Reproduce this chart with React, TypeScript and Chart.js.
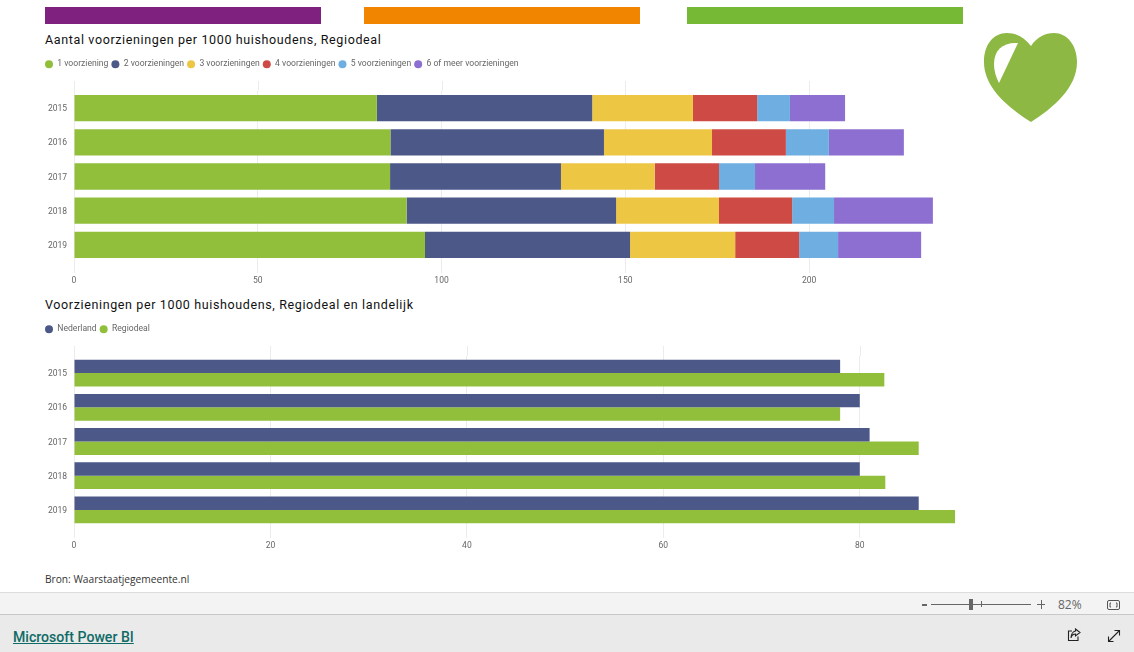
import React, { useEffect, useRef } from "react";
import { Chart, registerables } from "chart.js";

Chart.register(...registerables);

const years = ["2015", "2016", "2017", "2018", "2019"];

const titleTop = "Aantal voorzieningen per 1000 huishoudens, Regiodeal";
const titleBottom = "Voorzieningen per 1000 huishoudens, Regiodeal en landelijk";
const source = "Bron: Waarstaatjegemeente.nl";

const een = [82.4, 86.1, 86, 90.5, 95.5];
const twee = [58.6, 58.1, 46.5, 57, 55.8];
const drie = [27.4, 29.4, 25.5, 28, 28.6];
const vier = [17.5, 20.1, 17.5, 19.9, 17.4];
const vijf = [8.9, 11.7, 9.8, 11.4, 10.6];
const zesPlus = [15, 20.4, 19.1, 26.9, 22.6];

const nederland = [78, 80, 81, 80, 86];
const regiodeal = [82.5, 78, 86, 82.6, 89.7];

const GREEN = "#91BF3C";
const NAVY = "#4B5888";
const YELLOW = "#EDC644";
const RED = "#CE4B45";
const BLUE = "#6FAEE1";
const PURPLE = "#8C6FD1";
const GRID = "#ECECEC";
const TEXT = "#666666";
const FONT = "Roboto, sans-serif";
const LEGEND_PAD = 3;
const CANVAS_LEFT = 45 - LEGEND_PAD;

const layoutPlugin = {
  id: "layoutTweaks",
  beforeInit(chart: any) {
    const legend = chart.legend;
    const fit = legend.fit.bind(legend);
    legend.fit = function () {
      fit();
      legend.height = 34;
    };
  },
  beforeDatasetsDraw(chart: any) {
    const { ctx, chartArea, scales } = chart;
    ctx.save();
    ctx.strokeStyle = GRID;
    ctx.lineWidth = 1;
    scales.x.ticks.forEach((_: any, i: number) => {
      const x = Math.round(scales.x.getPixelForTick(i)) + 0.5;
      ctx.beginPath();
      ctx.moveTo(x, chartArea.top - 10);
      ctx.lineTo(x, chartArea.top);
      ctx.stroke();
    });
    ctx.restore();
  },
};

function options(max: number, step: number, stacked: boolean): any {
  return {
    indexAxis: "y",
    animation: false,
    responsive: false,
    maintainAspectRatio: false,
    layout: { padding: 0 },
    plugins: {
      tooltip: { enabled: false },
      title: { display: false },
      legend: {
        position: "top",
        align: "start",
        labels: {
          usePointStyle: true,
          pointStyle: "circle",
          pointStyleWidth: 8,
          boxHeight: 5.66,
          padding: LEGEND_PAD,
          color: TEXT,
          font: { family: FONT, size: 8.6 },
        },
      },
    },
    scales: {
      x: {
        stacked,
        min: 0,
        max,
        grid: { color: GRID, tickLength: 11, tickColor: GRID },
        border: { display: false },
        ticks: {
          stepSize: step,
          includeBounds: false,
          maxRotation: 0,
          padding: 3,
          color: TEXT,
          font: { family: FONT, size: 8.5 },
        },
        afterFit: (s: any) => {
          s.height = 26;
        },
      },
      y: {
        stacked,
        grid: { display: false, drawTicks: false },
        border: { display: false },
        ticks: {
          padding: 7,
          labelOffset: 1,
          color: TEXT,
          font: { family: FONT, size: 8.5 },
        },
        afterFit: (s: any) => {
          s.width = 74 - CANVAS_LEFT;
        },
      },
    },
  };
}

function BarChart(props: { top: number; width: number; config: () => any }) {
  const ref = useRef<HTMLCanvasElement | null>(null);
  useEffect(() => {
    const chart = new Chart(ref.current as HTMLCanvasElement, props.config());
    return () => chart.destroy();
  }, []);
  return (
    <canvas
      ref={ref}
      width={props.width}
      height={231}
      style={{ position: "absolute", left: CANVAS_LEFT, top: props.top, width: props.width, height: 231 }}
    />
  );
}

const stackedConfig = () => ({
  type: "bar",
  plugins: [layoutPlugin],
  data: {
    labels: years,
    datasets: [
      { label: "1 voorziening", data: een, backgroundColor: GREEN },
      { label: "2 voorzieningen", data: twee, backgroundColor: NAVY },
      { label: "3 voorzieningen", data: drie, backgroundColor: YELLOW },
      { label: "4 voorzieningen", data: vier, backgroundColor: RED },
      { label: "5 voorzieningen", data: vijf, backgroundColor: BLUE },
      { label: "6 of meer voorzieningen", data: zesPlus, backgroundColor: PURPLE },
    ].map((d) => ({ ...d, barPercentage: 1, categoryPercentage: 0.77 })),
  },
  options: options(234, 50, true),
});

const groupedConfig = () => ({
  type: "bar",
  plugins: [layoutPlugin],
  data: {
    labels: years,
    datasets: [
      { label: "Nederland", data: nederland, backgroundColor: NAVY },
      { label: "Regiodeal", data: regiodeal, backgroundColor: GREEN },
    ].map((d) => ({ ...d, barPercentage: 1, categoryPercentage: 0.785 })),
  },
  options: options(90, 20, false),
});

const abs = (left: number, top: number, extra: React.CSSProperties = {}): React.CSSProperties => ({
  position: "absolute",
  left,
  top,
  ...extra,
});

const titleStyle: React.CSSProperties = {
  fontFamily: FONT,
  fontSize: 12.5,
  lineHeight: "16px",
  letterSpacing: "0.63px",
  color: "#111",
  whiteSpace: "nowrap",
};

export default function App() {
  useEffect(() => {
    document.body.style.margin = "0";
  }, []);
  return (
    <div style={{ position: "fixed", left: 0, top: 0, width: 1134, height: 652, overflow: "hidden", background: "#fff" }}>
      <div style={abs(45, 7, { width: 276, height: 17, background: "#7F217F" })} />
      <div style={abs(364, 7, { width: 276, height: 17, background: "#F28500" })} />
      <div style={abs(687, 7, { width: 276, height: 17, background: "#75B935" })} />

      <svg style={abs(984, 33)} width={94} height={90} viewBox="0 0 94 90">
        <path
          d="M47 13 C40 4 32 0 23 0 C9 0 0 12 0 29 C0 55 25 75 47 89 C69 75 93 55 93 29 C93 12 83 0 70 0 C61 0 53 4 47 13 Z"
          fill="#8CB843"
        />
        <path d="M34 10 C19 9 10 17 10 31 C10 38 12 44 15 50 Z" fill="#fff" />
      </svg>

      <div style={abs(45, 32, titleStyle)}>{titleTop}</div>
      <div style={abs(45, 297, titleStyle)}>{titleBottom}</div>

      <BarChart top={57} width={892} config={stackedConfig} />
      <BarChart top={322} width={916} config={groupedConfig} />

      <div style={abs(45, 571, { fontFamily: "'Open Sans', sans-serif", fontSize: 10.2, lineHeight: "16px", color: "#333", whiteSpace: "nowrap" })}>
        {source}
      </div>

      <div style={abs(0, 592, { width: 1134, height: 23, background: "#F3F3F3", borderTop: "1px solid #DDD", borderBottom: "1px solid #C8C8C8", boxSizing: "border-box" })} />
      <div style={abs(0, 615, { width: 1134, height: 37, background: "#EAEAEA" })} />

      <div style={abs(922, 604, { width: 5, height: 2, background: "#666" })} />
      <div style={abs(931, 604, { width: 100, height: 1, background: "#666" })} />
      <div style={abs(981, 601, { width: 1, height: 6, background: "#666" })} />
      <div style={abs(969, 599, { width: 4, height: 11, background: "#666" })} />
      <div style={abs(1037, 604, { width: 8, height: 1, background: "#666" })} />
      <div style={abs(1041, 600, { width: 1, height: 9, background: "#666" })} />
      <div style={abs(1058, 596, { fontFamily: "'Open Sans', sans-serif", fontSize: 12, lineHeight: "17px", color: "#666" })}>82%</div>

      <svg style={abs(1106, 599)} width={15} height={12} viewBox="0 0 15 12" fill="none" stroke="#555">
        <rect x="1.5" y="1.5" width="12" height="9" rx="1.5" />
        <path d="M5 4 H4 V8 H5 M10 4 H11 V8 H10" />
      </svg>

      <a
        href="#"
        style={abs(13, 628, { fontFamily: "Roboto, sans-serif", fontSize: 14.1, fontWeight: 500, lineHeight: "18px", color: "#0F6B66", textDecoration: "underline", whiteSpace: "nowrap" })}
      >
        Microsoft Power BI
      </a>

      <svg style={abs(1067, 628)} width={14} height={14} viewBox="0 0 14 14" fill="none" stroke="#222" strokeWidth="1.1">
        <path d="M5 3 H1.5 V12.5 H11 V8.5" />
        <path d="M8.5 1 L13 4.5 L8.5 8 V6 C6 6 4.5 7.5 4 10 C4 6.5 6 3.5 8.5 3 Z" />
      </svg>
      <svg style={abs(1107, 629)} width={14} height={14} viewBox="0 0 14 14" fill="none" stroke="#222" strokeWidth="1.1">
        <path d="M1.5 12.5 L12.5 1.5 M7.5 1.5 H12.5 V6.5 M1.5 7.5 V12.5 H6.5" />
      </svg>
    </div>
  );
}
